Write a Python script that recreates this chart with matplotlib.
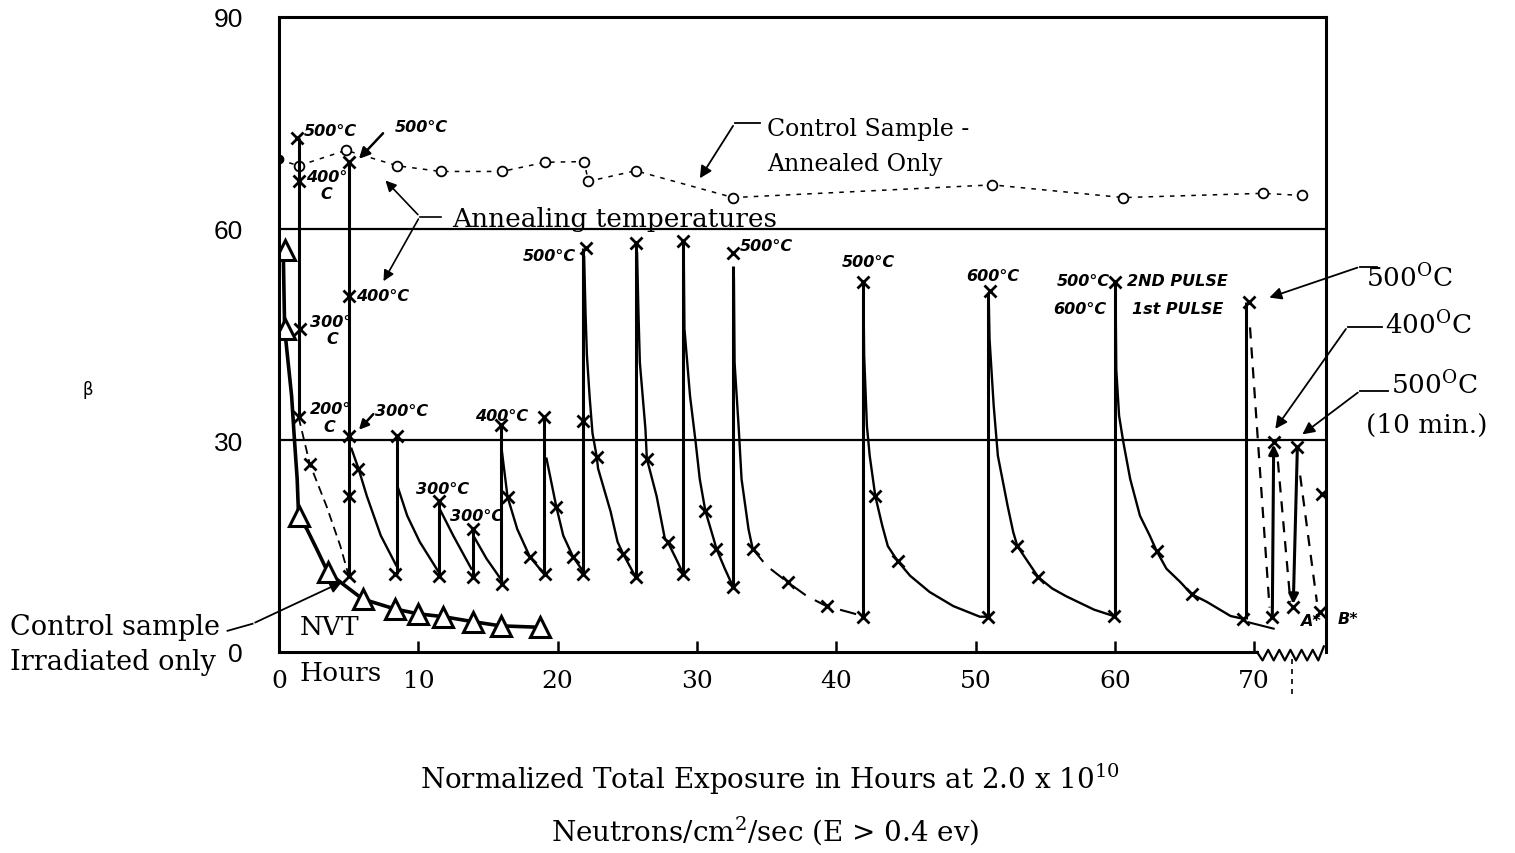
import matplotlib
matplotlib.use('Agg')
import matplotlib.pyplot as plt

plt.rcParams['font.family'] = ['DejaVu Serif']
plt.rcParams['mathtext.fontset'] = 'dejavuserif'

# control sample - annealed only (open circles, dashed)
ann_x = [0.0, 1.4, 4.8, 8.5, 11.6, 16.0, 19.1, 21.9, 22.2, 25.6, 32.6, 51.2, 60.6, 70.6, 73.4]
ann_y = [69.8, 68.9, 71.1, 68.9, 68.1, 68.1, 69.4, 69.5, 66.7, 68.2, 64.4, 66.2, 64.4, 65.0, 64.7]

# control sample - irradiated only (triangles) and the curve drawn through them
irr_x = [0.4, 0.4, 1.4, 3.5, 6.0, 8.3, 10.0, 11.8, 13.9, 15.9, 18.7]
irr_y = [56.9, 45.8, 19.3, 11.3, 7.5, 6.1, 5.4, 5.0, 4.3, 3.7, 3.5]
irr_line_x = [0.3, 0.4, 0.9, 1.1, 1.3, 1.4, 2.0, 2.7, 3.5, 4.6, 6.0, 8.3, 10.0, 11.8, 13.9, 15.9, 18.7]
irr_line_y = [56.9, 45.8, 36.3, 30.2, 24.5, 19.3, 17.4, 14.6, 11.3, 9.6, 7.5, 6.1, 5.4, 5.0, 4.3, 3.7, 3.5]

# irradiated + annealed sample (x marks)
xm_x = [1.3, 1.4, 1.5, 1.4, 2.2,
        5.0, 5.0, 5.0, 5.0, 5.7, 5.0,
        8.5, 8.3, 11.5, 11.5, 13.9, 13.9,
        15.9, 16.0, 16.4, 18.0,
        19.0, 19.1, 19.9, 21.1,
        21.8, 21.8, 22.0, 22.8, 24.7,
        25.6, 25.6, 26.4, 27.9,
        29.0, 29.0, 30.6, 31.4,
        32.6, 32.6, 34.0, 36.5, 39.3,
        41.9, 41.9, 42.8, 44.4,
        51.0, 50.9, 53.0, 54.5,
        60.0, 59.9, 63.0, 65.5,
        69.6, 69.2, 71.4, 71.3, 73.1, 72.8, 74.9, 74.7]
xm_y = [72.8, 66.7, 45.8, 33.3, 26.7,
        69.5, 50.5, 30.6, 22.1, 26.0, 10.8,
        30.6, 11.1, 21.4, 10.8, 17.4, 10.6,
        32.1, 9.6, 22.0, 13.5,
        33.3, 11.1, 20.6, 13.5,
        32.8, 11.1, 57.2, 27.7, 13.9,
        57.9, 10.6, 27.4, 15.6,
        58.3, 11.1, 20.0, 14.6,
        56.5, 9.2, 14.6, 9.9, 6.5,
        52.5, 5.0, 22.1, 12.9,
        51.1, 5.0, 15.0, 10.6,
        52.5, 5.1, 14.3, 8.2,
        49.6, 4.7, 29.8, 5.0, 29.1, 6.4, 22.4, 5.7]

# annealing jumps (vertical lines)
anneal_x = [1.4, 5.0, 8.5, 11.5, 13.9, 15.9, 19.0, 21.8, 25.6, 29.0, 32.6, 41.9, 50.9, 60.0, 69.4]
anneal_lo = [33.3, 10.8, 11.1, 10.8, 10.6, 9.6, 11.1, 11.1, 10.6, 11.1, 9.2, 5.0, 5.0, 5.1, 4.7]
anneal_hi = [72.8, 69.5, 30.6, 21.4, 17.4, 32.1, 33.3, 57.2, 57.9, 58.3, 54.7, 52.5, 51.0, 52.5, 49.6]

# recovery curves after each anneal
decay_x = [[1.4, 1.8, 2.2, 3.4, 4.4, 5.0],
           [5.2, 5.7, 6.3, 7.3, 8.4],
           [8.5, 9.2, 10.1, 11.4],
           [11.6, 12.5, 13.8],
           [14.0, 14.9, 16.0],
           [16.0, 16.4, 17.1, 18.0, 19.0],
           [19.2, 19.9, 20.4, 21.1, 21.8],
           [21.9, 22.0, 22.1, 22.3, 22.5, 22.8, 22.9, 23.8, 24.3, 24.7, 25.6],
           [25.7, 25.8, 25.9, 26.3, 26.4, 27.1, 27.7, 27.9, 28.6, 29.0],
           [29.05, 29.1, 29.5, 29.9, 30.2, 30.6, 31.2, 31.4, 32.0, 32.6],
           [32.65, 32.7, 33.0, 33.2, 33.7, 34.0],
           [41.95, 42.0, 42.2, 42.4, 42.8, 43.3, 43.7, 44.4, 45.3, 46.7, 48.4, 50.3, 50.9],
           [50.95, 51.0, 51.3, 51.6, 52.3, 52.7, 53.0, 54.5, 55.5, 56.5, 58.5, 59.9],
           [60.05, 60.1, 60.3, 60.6, 61.1, 61.8, 62.5, 63.0, 63.7, 64.7, 65.5, 66.6, 68.3, 69.2]]
decay_y = [[33.3, 30.0, 26.7, 20.7, 15.0, 10.8],
           [28.8, 26.0, 22.1, 16.5, 12.3],
           [23.5, 19.3, 15.6, 11.5],
           [20.0, 16.5, 11.8],
           [16.3, 13.2, 10.1],
           [28.4, 22.0, 17.4, 13.5, 11.1],
           [27.4, 20.6, 16.5, 13.5, 11.5],
           [56.0, 48.0, 42.0, 36.0, 31.0, 27.7, 26.0, 19.9, 15.6, 13.9, 10.6],
           [56.5, 48.0, 41.0, 31.6, 27.4, 22.1, 16.0, 15.6, 12.8, 11.1],
           [56.5, 45.8, 36.3, 29.8, 24.5, 20.0, 16.0, 14.6, 11.8, 9.2],
           [53.0, 41.0, 31.6, 24.5, 17.4, 14.6],
           [51.0, 42.0, 32.0, 27.8, 22.1, 17.9, 15.0, 12.9, 10.8, 8.5, 6.5, 5.0, 5.0],
           [49.5, 44.4, 34.9, 27.8, 20.7, 17.0, 15.0, 10.6, 9.0, 7.9, 6.0, 5.1],
           [51.0, 40.0, 33.5, 29.8, 24.5, 19.3, 16.5, 14.3, 11.8, 9.9, 8.2, 7.1, 5.1, 4.7]]
tail_x = [34.0, 35.0, 36.5, 37.9, 39.3, 40.8, 41.9]
tail_y = [14.6, 12.2, 9.9, 7.9, 6.5, 5.7, 5.1]
stub_x = [69.6, 71.4]
stub_y = [4.2, 3.3]

# last pulses, dashed recovery lines
dash_x = [[69.7, 71.1], [71.7, 72.6], [73.3, 74.5]]
dash_y = [[46.0, 6.3], [27.0, 7.1], [25.0, 7.1]]

# handwritten anneal temperatures: text, x, y
hand_labels = [("500°C", 1.8, 73.9), ("500°C", 8.3, 74.5), ("400°", 1.9, 67.4), ("C", 3.0, 65.0),
               ("400°C", 5.5, 50.5), ("300°", 2.2, 46.8), ("C", 3.4, 44.4),
               ("200°", 2.2, 34.5), ("C", 3.2, 31.9), ("300°C", 6.9, 34.2),
               ("300°C", 9.8, 23.1), ("300°C", 12.3, 19.3), ("400°C", 14.1, 33.5),
               ("500°C", 17.5, 56.2), ("500°C", 33.1, 57.6), ("500°C", 40.4, 55.3),
               ("600°C", 49.3, 53.3), ("500°C", 55.8, 52.6), ("2ND PULSE", 60.9, 52.6),
               ("600°C", 55.6, 48.7), ("1st PULSE", 61.2, 48.7), ("A*", 73.3, 4.4), ("B*", 76.0, 4.7)]

zig_x = [70.2, 70.6, 71.0, 71.4, 71.8, 72.2, 72.6, 73.0, 73.4, 73.8, 74.2, 74.6, 75.0]
zig_y = [0.0, -1.2, 0.3, -1.2, 0.3, -1.2, 0.3, -1.2, 0.3, -1.2, 0.3, -1.2, 0.8]

fig = plt.figure(figsize=(15.15, 8.54), dpi=100)
ax = fig.add_axes([0.1842, 0.2354, 0.6911, 0.7436])
ax.set_xlim(0, 75.16)
ax.set_ylim(0, 90)

ax.axhline(30, color='black', lw=1.6)
ax.axhline(60, color='black', lw=1.6)

# annealed only
ax.plot(ann_x, ann_y, ls=(0, (3, 4)), color='black', lw=1.1)
ax.plot(ann_x[1:], ann_y[1:], 'o', ms=7, mfc='white', mec='black', mew=1.3)
ax.plot(ann_x[0], ann_y[0], 'o', ms=6, color='black')

# irradiated only
ax.plot(irr_line_x, irr_line_y, color='black', lw=2.6)
ax.plot(irr_x, irr_y, '^', ms=15, mfc='white', mec='black', mew=2.2)

# annealing jumps and recovery
ax.vlines(anneal_x, anneal_lo, anneal_hi, color='black', lw=2.2)
for i, (dx, dy) in enumerate(zip(decay_x, decay_y)):
    if i == 0:
        ax.plot(dx, dy, color='black', lw=1.3, ls=(0, (5, 3)))
    else:
        ax.plot(dx, dy, color='black', lw=1.7)
ax.plot(tail_x, tail_y, color='black', lw=1.5, ls=(0, (8, 5)))
ax.plot(stub_x, stub_y, color='black', lw=1.5)
for dx, dy in zip(dash_x, dash_y):
    ax.plot(dx, dy, color='black', lw=1.6, ls=(0, (5, 4)))
ax.annotate('', xy=(71.4, 29.8), xytext=(71.3, 5.0),
            arrowprops=dict(arrowstyle='-|>', color='black', lw=2.2, mutation_scale=14))
ax.annotate('', xy=(72.8, 6.4), xytext=(73.1, 29.1),
            arrowprops=dict(arrowstyle='-|>', color='black', lw=2.2, mutation_scale=14))
ax.plot(xm_x, xm_y, 'x', ms=9, mew=2.0, color='black')

for txt, tx, ty in hand_labels:
    ax.text(tx, ty, txt, fontsize=11.5, family='DejaVu Sans', style='italic',
            weight='bold', ha='left', va='center', clip_on=False)

# serif annotations
ax.text(12.4, 61.5, "Annealing temperatures", fontsize=19, va='center')
ax.plot([11.6, 10.1], [61.7, 61.7], color='black', lw=1.2)
for hx, hy in [(7.5, 67.1), (7.4, 52.2)]:
    ax.annotate('', xy=(hx, hy), xytext=(10.1, 61.7),
                arrowprops=dict(arrowstyle='-|>', color='black', lw=1.2, mutation_scale=16))
ax.text(35.0, 74.2, "Control Sample -", fontsize=17, va='center')
ax.text(35.0, 69.2, "Annealed Only", fontsize=17, va='center')
ax.plot([34.5, 32.7], [74.9, 74.9], color='black', lw=1.3)
ax.annotate('', xy=(30.1, 66.8), xytext=(32.7, 74.9),
            arrowprops=dict(arrowstyle='-|>', color='black', lw=1.3, mutation_scale=18))
ax.annotate('', xy=(5.6, 69.6), xytext=(7.6, 73.8),
            arrowprops=dict(arrowstyle='-|>', color='black', lw=1.8, mutation_scale=16))
ax.annotate('', xy=(5.6, 31.2), xytext=(6.9, 34.0),
            arrowprops=dict(arrowstyle='-|>', color='black', lw=1.8, mutation_scale=14))

# right-hand labels
right_labels = [(r"500$^\mathrm{O}$C", 78.0, 53.2), (r"400$^\mathrm{O}$C", 79.4, 46.5),
                (r"500$^\mathrm{O}$C", 79.8, 38.0), ("(10 min.)", 78.0, 32.3)]
for txt, tx, ty in right_labels:
    ax.text(tx, ty, txt, fontsize=19, va='center', clip_on=False)
right_arrows = [((78.8, 54.6), (77.6, 54.6), (70.9, 50.1)),
                ((79.2, 46.1), (76.7, 46.1), (71.4, 31.3)),
                ((79.6, 37.0), (77.6, 37.0), (73.3, 30.6))]
for p0, p1, head in right_arrows:
    ax.plot([p0[0], p1[0]], [p0[1], p1[1]], color='black', lw=1.3, clip_on=False)
    ax.annotate('', xy=head, xytext=p1, annotation_clip=False,
                arrowprops=dict(arrowstyle='-|>', color='black', lw=1.3, mutation_scale=18))

# bottom-left labels
ax.text(1.5, 3.6, "NVT", fontsize=19, va='center')
ax.text(1.5, -2.9, "Hours", fontsize=19, va='center', clip_on=False)
ax.text(-19.3, 3.6, "Control sample", fontsize=19.5, va='center', clip_on=False)
ax.text(-19.3, -1.4, "Irradiated only", fontsize=19.5, va='center', clip_on=False)
ax.plot([-3.7, -1.9], [3.0, 4.0], color='black', lw=1.3, clip_on=False)
ax.annotate('', xy=(4.7, 10.1), xytext=(-1.9, 4.0), annotation_clip=False,
            arrowprops=dict(arrowstyle='-|>', color='black', lw=1.3, mutation_scale=18))

# axis break at the right end of the time axis
ax.plot(zig_x, zig_y, color='black', lw=1.6, clip_on=False)
ax.plot([72.7, 72.7], [-1.0, -6.5], color='black', lw=1.2, ls=(0, (3, 3)), clip_on=False)

for s in ax.spines.values():
    s.set_linewidth(2.2)
ax.spines['bottom'].set_bounds(0, 70.2)

ax.set_xticks([0, 10, 20, 30, 40, 50, 60, 70])
ax.set_xticklabels(['0', '10', '20', '30', '40', '50', '60', '70'], fontsize=18)
ax.tick_params(axis='x', direction='in', length=8, width=1.8, pad=12)
ax.set_yticks([0, 30, 60, 90])
ax.set_yticklabels(['0', '30', '60', '90'], fontsize=19, family='Liberation Sans')
ax.tick_params(axis='y', length=0, pad=26)

fig.text(0.058, 0.543, "β", fontsize=12, family='DejaVu Sans', ha='center', va='center')
fig.text(0.508, 0.087, r"Normalized Total Exposure in Hours at 2.0 x 10$^{10}$",
         fontsize=20, ha='center', va='center')
fig.text(0.505, 0.028, r"Neutrons/cm$^{2}$/sec (E > 0.4 ev)",
         fontsize=20, ha='center', va='center')

fig.savefig('out.png', dpi=100)
